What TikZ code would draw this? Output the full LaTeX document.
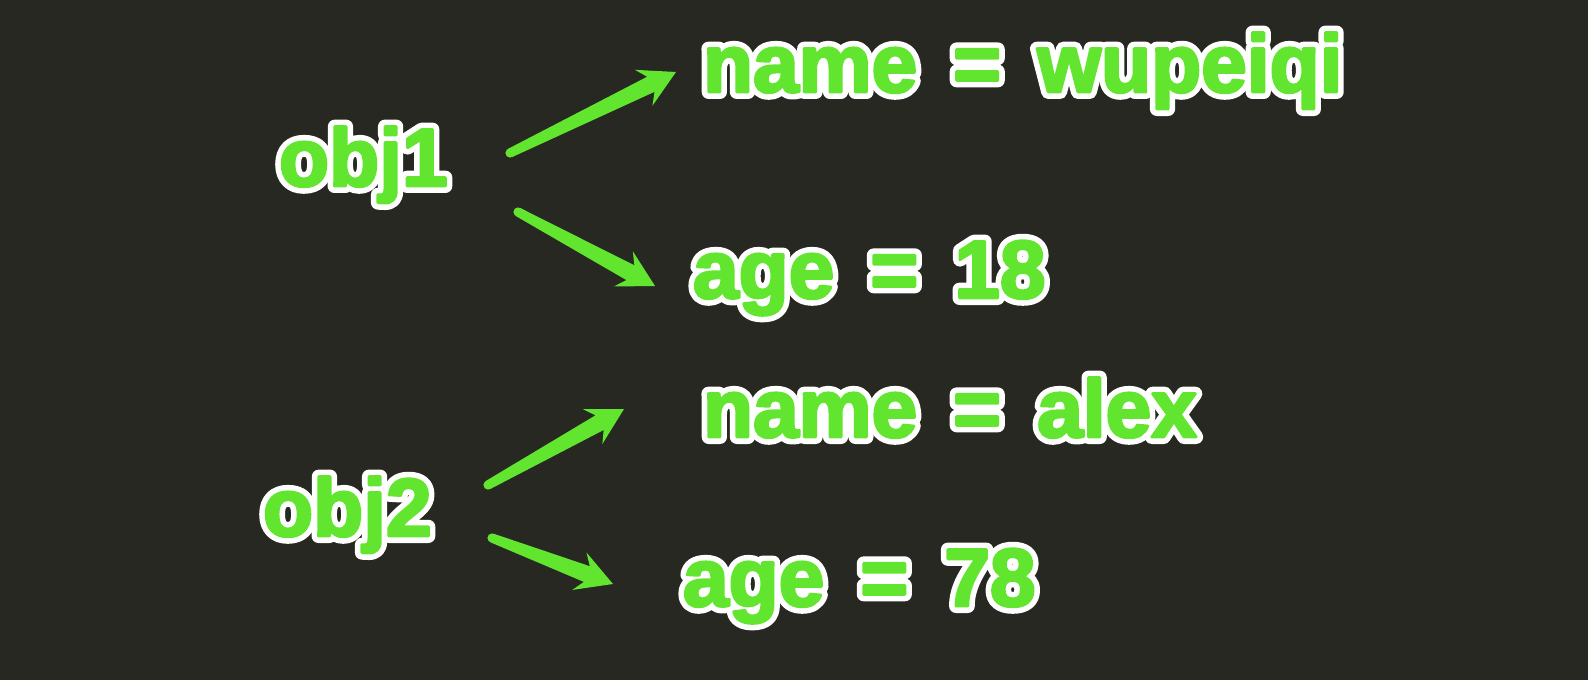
\documentclass[tikz,border=0pt]{standalone}
\usepackage{fontspec}
\setmainfont{Liberation Sans}
\newfontface\olw{Liberation Sans Bold}[FakeBold=17]
\newfontface\olg{Liberation Sans Bold}[FakeBold=3.5]
\usetikzlibrary{calc}
\definecolor{bg}{HTML}{282823}
\definecolor{lime}{HTML}{62E52E}
\newcommand{\olsp}{\hspace{0.44em}}
\newcommand{\oltext}[1]{%
  {\fontsize{41pt}{48pt}\selectfont
  \rlap{\color{white}\olw #1}\textcolor{lime}{\olg #1}}}
\newcommand{\tarrow}[2]{%
  \coordinate (#2-j) at ($(#2)!14pt!(#1)$);
  \coordinate (#2-b) at ($(#2)!18pt!(#1)$);
  \fill[lime] ($(#1)!2.3pt!90:(#2)$) -- ($(#2-j)!4.2pt!90:(#2)$) -- ($(#2-b)!10pt!90:(#2)$)
    -- (#2) -- ($(#2-b)!10pt!-90:(#2)$) -- ($(#2-j)!4.2pt!-90:(#2)$) -- ($(#1)!2.3pt!-90:(#2)$) -- cycle;
  \fill[lime] (#1) circle[radius=2.3pt];}
\tikzset{lbl/.style={anchor=base west, inner sep=0pt, outer sep=0pt}}
\begin{document}
\begin{tikzpicture}[x=0.5pt, y=-0.5pt, line join=round]
\fill[bg] (0,0) rectangle (1588,680);
\node[lbl] (obj1) at (279,186) {\oltext{obj1}};
\node[lbl] (n1) at (703,92) {\oltext{name\olsp=\olsp wupeiqi}};
\node[lbl] (a1) at (693,298) {\oltext{age\olsp=\olsp 18}};
\node[lbl] (obj2) at (263,536) {\oltext{obj2}};
\node[lbl] (n2) at (703,437) {\oltext{name\olsp=\olsp alex}};
\node[lbl] (a2) at (683,606) {\oltext{age\olsp=\olsp 78}};
\coordinate (t1) at (510,153); \coordinate (h1) at (676,72);
\coordinate (t2) at (518,212); \coordinate (h2) at (655,286);
\coordinate (t3) at (488,485); \coordinate (h3) at (624,409);
\coordinate (t4) at (492,538); \coordinate (h4) at (613,584);
\tarrow{t1}{h1}
\tarrow{t2}{h2}
\tarrow{t3}{h3}
\tarrow{t4}{h4}
\end{tikzpicture}
\end{document}
